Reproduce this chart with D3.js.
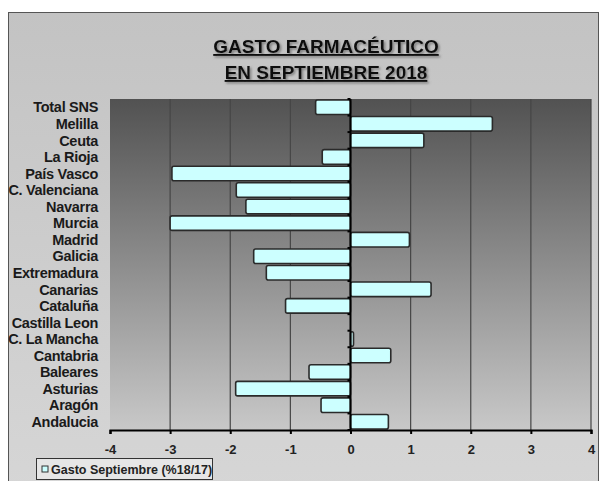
<!DOCTYPE html>
<html>
<head>
<meta charset="utf-8">
<script src="https://cdn.jsdelivr.net/npm/d3@7"></script>
<style>
  body { margin: 0; background: #fff; }
  svg { display: block; }
  text { font-family: "Liberation Sans Narrow", "Arial Narrow", "Liberation Sans", Arial, sans-serif; }
</style>
</head>
<body>
<div id="chart"></div>
<script>
// Data
var regions = ["Total SNS", "Melilla", "Ceuta", "La Rioja", "País Vasco", "C. Valenciana",
               "Navarra", "Murcia", "Madrid", "Galicia", "Extremadura", "Canarias",
               "Cataluña", "Castilla Leon", "C. La Mancha", "Cantabria", "Baleares",
               "Asturias", "Aragón", "Andalucia"];
var values = [-0.58, 2.36, 1.22, -0.47, -2.97, -1.9,
              -1.74, -3.0, 0.98, -1.61, -1.4, 1.34,
              -1.08, 0, 0.05, 0.67, -0.69,
              -1.91, -0.49, 0.63];
var ticks = [-4, -3, -2, -1, 0, 1, 2, 3, 4];
var seriesName = "Gasto Septiembre (%18/17)";

var width = 600, height = 481;
var plot = { left: 110, right: 591, top: 99, bottom: 430 };

var svg = d3.select("#chart").append("svg")
    .attr("width", width)
    .attr("height", height);

var defs = svg.append("defs");
var frameGrad = defs.append("linearGradient").attr("id", "frameGrad")
    .attr("x1", 0).attr("y1", 0).attr("x2", 0).attr("y2", 1);
frameGrad.append("stop").attr("offset", "0%").attr("stop-color", "#c3c3c3");
frameGrad.append("stop").attr("offset", "100%").attr("stop-color", "#d6d6d6");

var plotGrad = defs.append("linearGradient").attr("id", "plotGrad")
    .attr("x1", 0).attr("y1", 0).attr("x2", 0).attr("y2", 1);
plotGrad.append("stop").attr("offset", "0%").attr("stop-color", "#525252");
plotGrad.append("stop").attr("offset", "100%").attr("stop-color", "#c8c8c8");

var shadow = defs.append("filter").attr("id", "shadow")
    .attr("x", "-5%").attr("y", "-20%").attr("width", "110%").attr("height", "150%");
shadow.append("feDropShadow").attr("dx", 1.5).attr("dy", 1.5)
    .attr("stdDeviation", 0.8).attr("flood-color", "#666").attr("flood-opacity", 0.8);

// Outer frame
svg.append("rect")
    .attr("x", 8.5).attr("y", 12.5)
    .attr("width", 590).attr("height", 480)
    .attr("fill", "url(#frameGrad)")
    .attr("stroke", "#555").attr("stroke-width", 1);

// Title
var title = svg.append("text")
    .attr("text-anchor", "middle")
    .attr("font-size", 19)
    .attr("font-weight", "bold")
    .attr("fill", "#111")
    .attr("text-decoration", "underline")
    .attr("filter", "url(#shadow)");
title.append("tspan").attr("x", 326).attr("y", 53).text("GASTO FARMACÉUTICO");
title.append("tspan").attr("x", 326).attr("y", 79).text("EN SEPTIEMBRE 2018");

// Scales
var x = d3.scaleLinear().domain([-4, 4]).range([plot.left, plot.right]);
var y = d3.scaleBand().domain(regions).range([plot.top, plot.bottom]).paddingInner(0.12).paddingOuter(0.06);

// Plot background
svg.append("rect")
    .attr("x", plot.left).attr("y", plot.top)
    .attr("width", plot.right - plot.left).attr("height", plot.bottom - plot.top)
    .attr("fill", "url(#plotGrad)");

// Vertical gridlines
svg.append("g")
    .selectAll("line")
    .data(ticks.filter(function(t) { return t !== 0 && t !== -4; }))
    .enter()
    .append("line")
    .attr("x1", function(d) { return x(d); })
    .attr("x2", function(d) { return x(d); })
    .attr("y1", plot.top)
    .attr("y2", plot.bottom)
    .attr("stroke", "#464646")
    .attr("stroke-width", 1.2);

// Bars
svg.append("g")
    .selectAll("rect")
    .data(values)
    .enter()
    .append("rect")
    .attr("x", function(d) { return x(Math.min(0, d)); })
    .attr("y", function(d, i) { return y(regions[i]); })
    .attr("width", function(d) { return Math.abs(x(d) - x(0)); })
    .attr("height", y.bandwidth())
    .attr("rx", 2)
    .attr("fill", "#ccffff")
    .attr("stroke", "#2a2a2a")
    .attr("stroke-width", 1.6);

// X axis
var xAxis = svg.append("g")
    .attr("transform", "translate(0," + plot.bottom + ")")
    .call(d3.axisBottom(x).tickValues(ticks).tickSize(4).tickPadding(11)
        .tickFormat(d3.format("d")));
xAxis.select(".domain").attr("stroke", "#000").attr("stroke-width", 2.2);
xAxis.selectAll(".tick line").attr("stroke", "#000").attr("stroke-width", 2);
xAxis.selectAll(".tick text")
    .attr("font-size", 13)
    .attr("font-weight", "bold")
    .attr("fill", "#222")
    .style("font-family", "'Liberation Sans Narrow', 'Liberation Sans', Arial, sans-serif")
    .text(function(d) { return d < 0 ? "-" + Math.abs(d) : d; });

// Zero axis with small category ticks
svg.append("line")
    .attr("x1", x(0)).attr("x2", x(0))
    .attr("y1", plot.top).attr("y2", plot.bottom)
    .attr("stroke", "#000").attr("stroke-width", 2);
var step = (plot.bottom - plot.top) / regions.length;
svg.append("g")
    .selectAll("line")
    .data(d3.range(regions.length + 1))
    .enter()
    .append("line")
    .attr("x1", x(0) - 3).attr("x2", x(0))
    .attr("y1", function(i) { return plot.top + i * step; })
    .attr("y2", function(i) { return plot.top + i * step; })
    .attr("stroke", "#000").attr("stroke-width", 2);

// Category labels
svg.append("g")
    .selectAll("text")
    .data(regions)
    .enter()
    .append("text")
    .attr("x", 98)
    .attr("y", function(d) { return y(d) + y.bandwidth() / 2; })
    .attr("dy", "0.36em")
    .attr("text-anchor", "end")
    .attr("font-size", 14.5)
    .attr("font-weight", "bold")
    .attr("fill", "#1a1a1a")
    .attr("letter-spacing", -0.3)
    .text(function(d) { return d; });

// Legend
var legend = svg.append("g").attr("transform", "translate(36,458)");
legend.append("rect")
    .attr("x", 0.5).attr("y", 0.5)
    .attr("width", 176).attr("height", 21)
    .attr("fill", "#e6e6e6")
    .attr("stroke", "#333").attr("stroke-width", 1);
legend.append("rect")
    .attr("x", 6).attr("y", 8)
    .attr("width", 6).attr("height", 6)
    .attr("fill", "#ccffff").attr("stroke", "#333");
legend.append("text")
    .attr("x", 15).attr("y", 15.5)
    .attr("font-size", 12.5)
    .attr("font-weight", "bold")
    .attr("fill", "#222")
    .text(seriesName);
</script>
</body>
</html>
